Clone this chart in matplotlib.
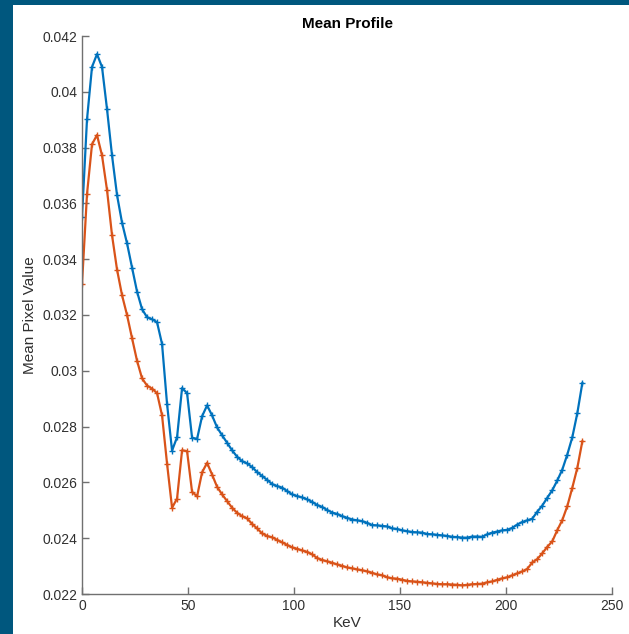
import numpy as np
import matplotlib
matplotlib.use('Agg')
import matplotlib.pyplot as plt
from matplotlib.patches import Rectangle

plt.rcParams['font.family'] = ['Liberation Sans', 'DejaVu Sans']

# energy bins (KeV)
kev = np.linspace(0, 236, 101)

# mean pixel value, first profile (blue)
profile_a = [0.03552, 0.03901, 0.04089, 0.04135, 0.04089, 0.03938, 0.03772, 0.03630, 0.03531, 0.03457,
             0.03370, 0.03284, 0.03221, 0.03192, 0.03185, 0.03174, 0.03096, 0.02881, 0.02714, 0.02762,
             0.02938, 0.02920, 0.02760, 0.02756, 0.02837, 0.02876, 0.02840, 0.02797, 0.02769, 0.02742,
             0.02715, 0.02692, 0.02676, 0.02668, 0.02655, 0.02637, 0.02623, 0.02609, 0.02594, 0.02587,
             0.02581, 0.02569, 0.02557, 0.02551, 0.02546, 0.02539, 0.02530, 0.02519, 0.02512, 0.02501,
             0.02492, 0.02487, 0.02479, 0.02473, 0.02467, 0.02464, 0.02461, 0.02455, 0.02447, 0.02446,
             0.02444, 0.02442, 0.02435, 0.02433, 0.02428, 0.02425, 0.02422, 0.02421, 0.02420, 0.02415,
             0.02414, 0.02412, 0.02410, 0.02408, 0.02405, 0.02404, 0.02402, 0.02402, 0.02406, 0.02406,
             0.02405, 0.02414, 0.02420, 0.02424, 0.02428, 0.02430, 0.02437, 0.02449, 0.02458, 0.02464,
             0.02470, 0.02495, 0.02517, 0.02545, 0.02572, 0.02607, 0.02646, 0.02700, 0.02762, 0.02848,
             0.02956]

# mean pixel value, second profile (orange)
profile_b = [0.03311, 0.03633, 0.03812, 0.03845, 0.03772, 0.03648, 0.03486, 0.03363, 0.03271, 0.03200,
             0.03117, 0.03036, 0.02973, 0.02947, 0.02936, 0.02920, 0.02840, 0.02667, 0.02509, 0.02542,
             0.02715, 0.02712, 0.02566, 0.02550, 0.02636, 0.02670, 0.02628, 0.02584, 0.02557, 0.02533,
             0.02509, 0.02491, 0.02479, 0.02471, 0.02451, 0.02435, 0.02417, 0.02408, 0.02403, 0.02394,
             0.02385, 0.02376, 0.02367, 0.02362, 0.02356, 0.02351, 0.02342, 0.02329, 0.02322, 0.02317,
             0.02312, 0.02306, 0.02301, 0.02295, 0.02292, 0.02288, 0.02285, 0.02281, 0.02276, 0.02270,
             0.02267, 0.02260, 0.02256, 0.02255, 0.02251, 0.02247, 0.02245, 0.02244, 0.02242, 0.02240,
             0.02238, 0.02236, 0.02235, 0.02235, 0.02234, 0.02233, 0.02231, 0.02233, 0.02235, 0.02236,
             0.02237, 0.02242, 0.02245, 0.02251, 0.02256, 0.02260, 0.02267, 0.02274, 0.02281, 0.02290,
             0.02313, 0.02325, 0.02346, 0.02369, 0.02389, 0.02429, 0.02465, 0.02515, 0.02581, 0.02652,
             0.02747]

xticks = [0, 50, 100, 150, 200, 250]
yticks = [0.022, 0.024, 0.026, 0.028, 0.03, 0.032, 0.034, 0.036, 0.038, 0.04, 0.042]
ytick_labels = ['0.022', '0.024', '0.026', '0.028', '0.03', '0.032', '0.034', '0.036', '0.038', '0.04', '0.042']

fig = plt.figure(figsize=(6.29, 6.34), dpi=100)
fig.patch.set_facecolor('white')

# dark slide border on top and left
fig.patches.append(Rectangle((0, 1 - 5 / 634), 1, 5 / 634, transform=fig.transFigure,
                             facecolor='#00577e', edgecolor='none', zorder=0))
fig.patches.append(Rectangle((0, 0), 13 / 629, 1, transform=fig.transFigure,
                             facecolor='#00577e', edgecolor='none', zorder=0))

ax = fig.add_axes([82 / 629, 1 - 594 / 634, 530 / 629, 558 / 634])

ax.plot(kev, profile_a, color='#0072BD', lw=1.6, marker='+', ms=4.5, mew=1.0)
ax.plot(kev, profile_b, color='#D95319', lw=1.6, marker='+', ms=4.5, mew=1.0)

ax.set_xlim(0, 250)
ax.set_ylim(0.022, 0.042)
ax.set_xticks(xticks)
ax.set_yticks(yticks)
ax.set_yticklabels(ytick_labels)

for s in ['top', 'right']:
    ax.spines[s].set_visible(False)
for s in ['left', 'bottom']:
    ax.spines[s].set_color('#707070')
    ax.spines[s].set_linewidth(1.0)
ax.tick_params(direction='in', length=5, width=1, color='#707070', labelcolor='#303030', labelsize=10)

ax.set_title('Mean Profile', fontsize=11, fontweight='bold', pad=6)
ax.set_xlabel('KeV', fontsize=11, color='#303030', labelpad=2)
ax.set_ylabel('Mean Pixel Value', fontsize=11, color='#303030', labelpad=4)

fig.savefig('out.png', dpi=100)
